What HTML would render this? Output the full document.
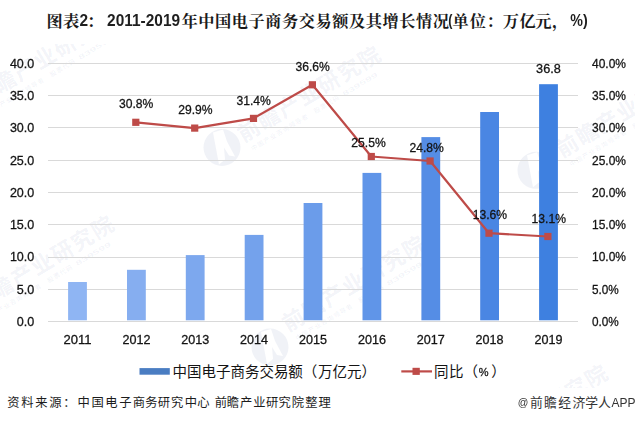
<!DOCTYPE html>
<html lang="zh-CN">
<head>
<meta charset="utf-8">
<title>图表2：2011-2019年中国电子商务交易额及其增长情况</title>
<style>
html,body{margin:0;padding:0;background:#fff;}
body{width:635px;height:423px;overflow:hidden;font-family:"Liberation Sans",sans-serif;}
svg{display:block;}
</style>
</head>
<body>
<svg width="635" height="423" viewBox="0 0 635 423" font-family="'Liberation Sans', sans-serif">
<defs>
<filter id="gray" x="0" y="0" width="635" height="423" filterUnits="userSpaceOnUse" color-interpolation-filters="sRGB"><feOffset dx="0" dy="0"/></filter>
</defs>
<rect width="635" height="423" fill="#ffffff"/>
<clipPath id="wmclip"><rect x="0" y="44" width="635" height="344"/></clipPath>
<g aria-hidden="true" clip-path="url(#wmclip)">
<g transform="translate(-41.0 113.0)"><path fill-rule="evenodd" fill="#5a6ea8" fill-opacity="0.09" d="M-18.5,0 a18.5,18.5 0 1,0 37,0 a18.5,18.5 0 1,0 -37,0 Z M-9,-15 L1,-18 L5,-6 L13,9 L7,8 L2,0 L3,12 L-3,17 Z"/></g>
<g transform="translate(-15.5 93.5) rotate(-31)">
<text font-family="'Liberation Sans', 'Noto Sans CJK SC', sans-serif" font-size="21.8" font-weight="bold" fill="#5a6ea8" fill-opacity="0.085" x="-10.9 12.5 35.9 59.3 82.7 106.1 129.5" y="8.2">前瞻产业研究院</text>
<text font-family="'Liberation Sans', 'Noto Sans CJK SC', sans-serif" font-size="6.5" font-weight="bold" fill="#5a6ea8" fill-opacity="0.07" x="-7.25 0.05 7.35 14.65 21.95 29.25 36.55 43.85 51.15 65.75 73.05 80.35 87.65" y="20.5">中国产业咨询领导者股票代码</text>
<text x="99" y="20.5" font-size="6.8" font-weight="bold" fill="#5a6ea8" fill-opacity="0.07" textLength="40" lengthAdjust="spacingAndGlyphs">839599</text>
</g>
<g transform="translate(222.0 147.5)"><path fill-rule="evenodd" fill="#5a6ea8" fill-opacity="0.09" d="M-18.5,0 a18.5,18.5 0 1,0 37,0 a18.5,18.5 0 1,0 -37,0 Z M-9,-15 L1,-18 L5,-6 L13,9 L7,8 L2,0 L3,12 L-3,17 Z"/></g>
<g transform="translate(248.5 130.0) rotate(-31)">
<text font-family="'Liberation Sans', 'Noto Sans CJK SC', sans-serif" font-size="21.8" font-weight="bold" fill="#5a6ea8" fill-opacity="0.085" x="-10.9 12.5 35.9 59.3 82.7 106.1 129.5" y="8.2">前瞻产业研究院</text>
<text font-family="'Liberation Sans', 'Noto Sans CJK SC', sans-serif" font-size="6.5" font-weight="bold" fill="#5a6ea8" fill-opacity="0.07" x="-7.25 0.05 7.35 14.65 21.95 29.25 36.55 43.85 51.15 65.75 73.05 80.35 87.65" y="20.5">中国产业咨询领导者股票代码</text>
<text x="99" y="20.5" font-size="6.8" font-weight="bold" fill="#5a6ea8" fill-opacity="0.07" textLength="40" lengthAdjust="spacingAndGlyphs">839599</text>
</g>
<g transform="translate(536.0 170.3)"><path fill-rule="evenodd" fill="#5a6ea8" fill-opacity="0.09" d="M-18.5,0 a18.5,18.5 0 1,0 37,0 a18.5,18.5 0 1,0 -37,0 Z M-9,-15 L1,-18 L5,-6 L13,9 L7,8 L2,0 L3,12 L-3,17 Z"/></g>
<g transform="translate(567.0 145.5) rotate(-31)">
<text font-family="'Liberation Sans', 'Noto Sans CJK SC', sans-serif" font-size="21.8" font-weight="bold" fill="#5a6ea8" fill-opacity="0.085" x="-10.9 12.5 35.9 59.3 82.7 106.1 129.5" y="8.2">前瞻产业研究院</text>
<text font-family="'Liberation Sans', 'Noto Sans CJK SC', sans-serif" font-size="6.5" font-weight="bold" fill="#5a6ea8" fill-opacity="0.07" x="-7.25 0.05 7.35 14.65 21.95 29.25 36.55 43.85 51.15 65.75 73.05 80.35 87.65" y="20.5">中国产业咨询领导者股票代码</text>
<text x="99" y="20.5" font-size="6.8" font-weight="bold" fill="#5a6ea8" fill-opacity="0.07" textLength="40" lengthAdjust="spacingAndGlyphs">839599</text>
</g>
<g transform="translate(-43.7 319.0)"><path fill-rule="evenodd" fill="#5a6ea8" fill-opacity="0.09" d="M-18.5,0 a18.5,18.5 0 1,0 37,0 a18.5,18.5 0 1,0 -37,0 Z M-9,-15 L1,-18 L5,-6 L13,9 L7,8 L2,0 L3,12 L-3,17 Z"/></g>
<g transform="translate(-18.2 299.5) rotate(-31)">
<text font-family="'Liberation Sans', 'Noto Sans CJK SC', sans-serif" font-size="21.8" font-weight="bold" fill="#5a6ea8" fill-opacity="0.085" x="-10.9 12.5 35.9 59.3 82.7 106.1 129.5" y="8.2">前瞻产业研究院</text>
<text font-family="'Liberation Sans', 'Noto Sans CJK SC', sans-serif" font-size="6.5" font-weight="bold" fill="#5a6ea8" fill-opacity="0.07" x="-7.25 0.05 7.35 14.65 21.95 29.25 36.55 43.85 51.15 65.75 73.05 80.35 87.65" y="20.5">中国产业咨询领导者股票代码</text>
<text x="99" y="20.5" font-size="6.8" font-weight="bold" fill="#5a6ea8" fill-opacity="0.07" textLength="40" lengthAdjust="spacingAndGlyphs">839599</text>
</g>
<g transform="translate(270.0 347.0)"><path fill-rule="evenodd" fill="#5a6ea8" fill-opacity="0.09" d="M-18.5,0 a18.5,18.5 0 1,0 37,0 a18.5,18.5 0 1,0 -37,0 Z M-9,-15 L1,-18 L5,-6 L13,9 L7,8 L2,0 L3,12 L-3,17 Z"/></g>
<g transform="translate(293.0 319.5) rotate(-31)">
<text font-family="'Liberation Sans', 'Noto Sans CJK SC', sans-serif" font-size="21.8" font-weight="bold" fill="#5a6ea8" fill-opacity="0.085" x="-10.9 12.5 35.9 59.3 82.7 106.1 129.5" y="8.2">前瞻产业研究院</text>
<text font-family="'Liberation Sans', 'Noto Sans CJK SC', sans-serif" font-size="6.5" font-weight="bold" fill="#5a6ea8" fill-opacity="0.07" x="-7.25 0.05 7.35 14.65 21.95 29.25 36.55 43.85 51.15 65.75 73.05 80.35 87.65" y="20.5">中国产业咨询领导者股票代码</text>
<text x="99" y="20.5" font-size="6.8" font-weight="bold" fill="#5a6ea8" fill-opacity="0.07" textLength="40" lengthAdjust="spacingAndGlyphs">839599</text>
</g>
<g transform="translate(450.1 467.8)"><path fill-rule="evenodd" fill="#5a6ea8" fill-opacity="0.09" d="M-18.5,0 a18.5,18.5 0 1,0 37,0 a18.5,18.5 0 1,0 -37,0 Z M-9,-15 L1,-18 L5,-6 L13,9 L7,8 L2,0 L3,12 L-3,17 Z"/></g>
<g transform="translate(475.6 448.3) rotate(-31)">
<text font-family="'Liberation Sans', 'Noto Sans CJK SC', sans-serif" font-size="21.8" font-weight="bold" fill="#5a6ea8" fill-opacity="0.085" x="-10.9 12.5 35.9 59.3 82.7 106.1 129.5" y="8.2">前瞻产业研究院</text>
<text font-family="'Liberation Sans', 'Noto Sans CJK SC', sans-serif" font-size="6.5" font-weight="bold" fill="#5a6ea8" fill-opacity="0.07" x="-7.25 0.05 7.35 14.65 21.95 29.25 36.55 43.85 51.15 65.75 73.05 80.35 87.65" y="20.5">中国产业咨询领导者股票代码</text>
<text x="99" y="20.5" font-size="6.8" font-weight="bold" fill="#5a6ea8" fill-opacity="0.07" textLength="40" lengthAdjust="spacingAndGlyphs">839599</text>
</g>
</g>
<g stroke="#d9d9d9" stroke-width="1" shape-rendering="crispEdges">
<line x1="48.0" y1="321.5" x2="578.3" y2="321.5"/>
<line x1="48.0" y1="289.2" x2="578.3" y2="289.2"/>
<line x1="48.0" y1="257.0" x2="578.3" y2="257.0"/>
<line x1="48.0" y1="224.7" x2="578.3" y2="224.7"/>
<line x1="48.0" y1="192.5" x2="578.3" y2="192.5"/>
<line x1="48.0" y1="160.2" x2="578.3" y2="160.2"/>
<line x1="48.0" y1="127.9" x2="578.3" y2="127.9"/>
<line x1="48.0" y1="95.7" x2="578.3" y2="95.7"/>
<line x1="48.0" y1="63.4" x2="578.3" y2="63.4"/>
</g>
<g>
<rect x="68.1" y="282.0" width="18.8" height="38.3" fill="#8fb5f3"/>
<rect x="127.0" y="269.8" width="18.8" height="50.5" fill="#86aef0"/>
<rect x="185.8" y="255.1" width="18.8" height="65.2" fill="#7da8ee"/>
<rect x="244.7" y="234.9" width="18.8" height="85.4" fill="#74a2ec"/>
<rect x="303.6" y="203.0" width="18.8" height="117.3" fill="#6b9cea"/>
<rect x="362.5" y="172.9" width="18.8" height="147.4" fill="#6095e8"/>
<rect x="421.4" y="137.1" width="18.8" height="183.2" fill="#558de5"/>
<rect x="480.2" y="112.0" width="18.8" height="208.3" fill="#4a86e3"/>
<rect x="539.1" y="84.2" width="18.8" height="236.1" fill="#3e80e0"/>
</g>
<polyline fill="none" stroke="#be4b48" stroke-width="2.2" stroke-linejoin="round" points="135.8,122.3 194.7,128.1 253.5,118.4 312.4,84.8 371.3,156.5 430.1,161.0 489.0,233.2 547.9,236.5"/>
<g fill="#be4b48">
<rect x="132.2" y="118.7" width="7.2" height="7.2"/>
<rect x="191.1" y="124.5" width="7.2" height="7.2"/>
<rect x="249.9" y="114.8" width="7.2" height="7.2"/>
<rect x="308.8" y="81.2" width="7.2" height="7.2"/>
<rect x="367.7" y="152.9" width="7.2" height="7.2"/>
<rect x="426.5" y="157.4" width="7.2" height="7.2"/>
<rect x="485.4" y="229.6" width="7.2" height="7.2"/>
<rect x="544.3" y="232.9" width="7.2" height="7.2"/>
</g>
<g font-family="'Liberation Sans', sans-serif" stroke="#141414" stroke-width="0.3" filter="url(#gray)">
<text x="16.8" y="325.8" font-size="13.00" text-anchor="start" font-weight="normal" fill="#141414" textLength="17.5" lengthAdjust="spacingAndGlyphs">0.0</text>
<text x="16.8" y="293.5" font-size="13.00" text-anchor="start" font-weight="normal" fill="#141414" textLength="17.5" lengthAdjust="spacingAndGlyphs">5.0</text>
<text x="9.9" y="261.3" font-size="13.00" text-anchor="start" font-weight="normal" fill="#141414" textLength="24.4" lengthAdjust="spacingAndGlyphs">10.0</text>
<text x="9.9" y="229.0" font-size="13.00" text-anchor="start" font-weight="normal" fill="#141414" textLength="24.4" lengthAdjust="spacingAndGlyphs">15.0</text>
<text x="9.9" y="196.8" font-size="13.00" text-anchor="start" font-weight="normal" fill="#141414" textLength="24.4" lengthAdjust="spacingAndGlyphs">20.0</text>
<text x="9.9" y="164.5" font-size="13.00" text-anchor="start" font-weight="normal" fill="#141414" textLength="24.4" lengthAdjust="spacingAndGlyphs">25.0</text>
<text x="9.9" y="132.2" font-size="13.00" text-anchor="start" font-weight="normal" fill="#141414" textLength="24.4" lengthAdjust="spacingAndGlyphs">30.0</text>
<text x="9.9" y="100.0" font-size="13.00" text-anchor="start" font-weight="normal" fill="#141414" textLength="24.4" lengthAdjust="spacingAndGlyphs">35.0</text>
<text x="9.9" y="67.7" font-size="13.00" text-anchor="start" font-weight="normal" fill="#141414" textLength="24.4" lengthAdjust="spacingAndGlyphs">40.0</text>
<text x="592.0" y="325.8" font-size="13.00" text-anchor="start" font-weight="normal" fill="#141414" textLength="26.8" lengthAdjust="spacingAndGlyphs">0.0%</text>
<text x="592.0" y="293.5" font-size="13.00" text-anchor="start" font-weight="normal" fill="#141414" textLength="26.8" lengthAdjust="spacingAndGlyphs">5.0%</text>
<text x="592.0" y="261.3" font-size="13.00" text-anchor="start" font-weight="normal" fill="#141414" textLength="34.0" lengthAdjust="spacingAndGlyphs">10.0%</text>
<text x="592.0" y="229.0" font-size="13.00" text-anchor="start" font-weight="normal" fill="#141414" textLength="34.0" lengthAdjust="spacingAndGlyphs">15.0%</text>
<text x="592.0" y="196.8" font-size="13.00" text-anchor="start" font-weight="normal" fill="#141414" textLength="34.0" lengthAdjust="spacingAndGlyphs">20.0%</text>
<text x="592.0" y="164.5" font-size="13.00" text-anchor="start" font-weight="normal" fill="#141414" textLength="34.0" lengthAdjust="spacingAndGlyphs">25.0%</text>
<text x="592.0" y="132.2" font-size="13.00" text-anchor="start" font-weight="normal" fill="#141414" textLength="34.0" lengthAdjust="spacingAndGlyphs">30.0%</text>
<text x="592.0" y="100.0" font-size="13.00" text-anchor="start" font-weight="normal" fill="#141414" textLength="34.0" lengthAdjust="spacingAndGlyphs">35.0%</text>
<text x="592.0" y="67.7" font-size="13.00" text-anchor="start" font-weight="normal" fill="#141414" textLength="34.0" lengthAdjust="spacingAndGlyphs">40.0%</text>
<text x="63.5" y="344.2" font-size="13.00" text-anchor="start" font-weight="normal" fill="#141414" textLength="28.0" lengthAdjust="spacingAndGlyphs">2011</text>
<text x="122.4" y="344.2" font-size="13.00" text-anchor="start" font-weight="normal" fill="#141414" textLength="28.0" lengthAdjust="spacingAndGlyphs">2012</text>
<text x="181.2" y="344.2" font-size="13.00" text-anchor="start" font-weight="normal" fill="#141414" textLength="28.0" lengthAdjust="spacingAndGlyphs">2013</text>
<text x="240.1" y="344.2" font-size="13.00" text-anchor="start" font-weight="normal" fill="#141414" textLength="28.0" lengthAdjust="spacingAndGlyphs">2014</text>
<text x="299.0" y="344.2" font-size="13.00" text-anchor="start" font-weight="normal" fill="#141414" textLength="28.0" lengthAdjust="spacingAndGlyphs">2015</text>
<text x="357.9" y="344.2" font-size="13.00" text-anchor="start" font-weight="normal" fill="#141414" textLength="28.0" lengthAdjust="spacingAndGlyphs">2016</text>
<text x="416.8" y="344.2" font-size="13.00" text-anchor="start" font-weight="normal" fill="#141414" textLength="28.0" lengthAdjust="spacingAndGlyphs">2017</text>
<text x="475.6" y="344.2" font-size="13.00" text-anchor="start" font-weight="normal" fill="#141414" textLength="28.0" lengthAdjust="spacingAndGlyphs">2018</text>
<text x="534.5" y="344.2" font-size="13.00" text-anchor="start" font-weight="normal" fill="#141414" textLength="28.0" lengthAdjust="spacingAndGlyphs">2019</text>
<text x="536.1" y="72.6" font-size="13.00" text-anchor="start" font-weight="normal" fill="#141414" textLength="24.7" lengthAdjust="spacingAndGlyphs">36.8</text>
<text x="118.9" y="107.9" font-size="13.00" text-anchor="start" font-weight="normal" fill="#141414" textLength="34.4" lengthAdjust="spacingAndGlyphs">30.8%</text>
<text x="178.2" y="114.3" font-size="13.00" text-anchor="start" font-weight="normal" fill="#141414" textLength="34.4" lengthAdjust="spacingAndGlyphs">29.9%</text>
<text x="236.4" y="104.6" font-size="13.00" text-anchor="start" font-weight="normal" fill="#141414" textLength="34.4" lengthAdjust="spacingAndGlyphs">31.4%</text>
<text x="295.4" y="70.9" font-size="13.00" text-anchor="start" font-weight="normal" fill="#141414" textLength="34.4" lengthAdjust="spacingAndGlyphs">36.6%</text>
<text x="351.3" y="147.4" font-size="13.00" text-anchor="start" font-weight="normal" fill="#141414" textLength="34.4" lengthAdjust="spacingAndGlyphs">25.5%</text>
<text x="409.5" y="151.5" font-size="13.00" text-anchor="start" font-weight="normal" fill="#141414" textLength="34.4" lengthAdjust="spacingAndGlyphs">24.8%</text>
<text x="472.7" y="219.2" font-size="13.00" text-anchor="start" font-weight="normal" fill="#141414" textLength="34.4" lengthAdjust="spacingAndGlyphs">13.6%</text>
<text x="531.6" y="223.0" font-size="13.00" text-anchor="start" font-weight="normal" fill="#141414" textLength="34.4" lengthAdjust="spacingAndGlyphs">13.1%</text>
<text stroke="none" x="79.4" y="26.3" font-size="16.20" text-anchor="start" font-weight="bold" fill="#1f1f1f" textLength="8.6" lengthAdjust="spacingAndGlyphs">2</text>
<text stroke="none" x="107.1" y="26.3" font-size="16.20" text-anchor="start" font-weight="bold" fill="#1f1f1f" textLength="73.0" lengthAdjust="spacingAndGlyphs">2011-2019</text>
<text stroke="none" x="448.2" y="26.3" font-size="16.20" text-anchor="start" font-weight="bold" fill="#1f1f1f" textLength="4.2" lengthAdjust="spacingAndGlyphs">(</text>
<text stroke="none" x="570.3" y="26.3" font-size="16.60" text-anchor="start" font-weight="bold" fill="#1f1f1f" textLength="17.4" lengthAdjust="spacingAndGlyphs">%)</text>
<text x="478.8" y="375.5" font-size="11.00" text-anchor="start" font-weight="normal" fill="#262626" textLength="9.8" lengthAdjust="spacingAndGlyphs">%</text>
<text stroke="none" x="611.5" y="407.0" font-size="12.60" text-anchor="start" font-weight="normal" fill="#333333" textLength="24.0" lengthAdjust="spacingAndGlyphs">APP</text>
<text stroke="none" x="517.8" y="406.2" font-size="11.80" text-anchor="start" font-weight="normal" fill="#333333" textLength="10.6" lengthAdjust="spacingAndGlyphs">@</text>
</g>
<g fill="#1a1a1a" font-family="'Liberation Serif', 'Noto Serif CJK SC', serif" font-size="16.2" font-weight="bold" aria-label="图表2：2011-2019年中国电子商务交易额及其增长情况(单位：万亿元，%)">
<title>图表2：2011-2019年中国电子商务交易额及其增长情况(单位：万亿元，%)</title>
<text x="46.6 63.1" y="26.5">图表</text>
<text x="86.9" y="26.5">：</text>
<text x="181.4 198.15 214.9 231.65 248.4 265.15 281.9 298.65 315.4 332.15 348.9 365.65 382.4 399.15 415.9 432.65" y="26.5">年中国电子商务交易额及其增长情况</text>
<text x="452.55 469.7 486.4 502.7 519.45 535.2 551.9" y="26.5">单位：万亿元，</text>
</g>
<rect x="139.5" y="368.1" width="30.3" height="6.6" fill="#4a7dc2"/>
<line x1="401.3" y1="371.4" x2="432" y2="371.4" stroke="#be4b48" stroke-width="2.2"/>
<rect x="412.5" y="367.8" width="7.3" height="7.1" fill="#be4b48"/>
<g fill="#141414" font-family="'Liberation Sans', 'Noto Sans CJK SC', sans-serif" font-size="14.5" aria-label="中国电子商务交易额（万亿元） 同比（%）">
<title>中国电子商务交易额（万亿元） 同比（%）</title>
<text x="172.6 187.07 201.54 216.01 230.48 244.95 259.42 273.89 288.36 302.83 318 332.47 346.94 361.41" y="376.6">中国电子商务交易额（万亿元）</text>
<text x="434 448.9 463.45" y="376.6">同比（</text>
<text x="491.25" y="376.6">）</text>
</g>
<g fill="#1c1c1c" font-family="'Liberation Sans', 'Noto Sans CJK SC', sans-serif" font-size="12.3" aria-label="资料来源：中国电子商务研究中心 前瞻产业研究院整理">
<title>资料来源：中国电子商务研究中心 前瞻产业研究院整理</title>
<text x="7.35 21.25 35.15 49.25 63.35 77.45 91.55 105.15 119.25 132.85 145.25 157.85 171.05 184.65 197.35" y="407">资料来源：中国电子商务研究中心</text>
<text x="214.75 226.85 240.05 253.25 265.95 278.55 291.85 305.35 318.45" y="407">前瞻产业研究院整理</text>
</g>
<g fill="#333333" font-family="'Liberation Sans', 'Noto Sans CJK SC', sans-serif" font-size="12.8" aria-label="@前瞻经济学人APP">
<title>@前瞻经济学人APP</title>
<text x="530 544.1 558.3 572.5 585.3 598.1" y="407.1">前瞻经济学人</text>
</g>
</svg>
</body>
</html>
